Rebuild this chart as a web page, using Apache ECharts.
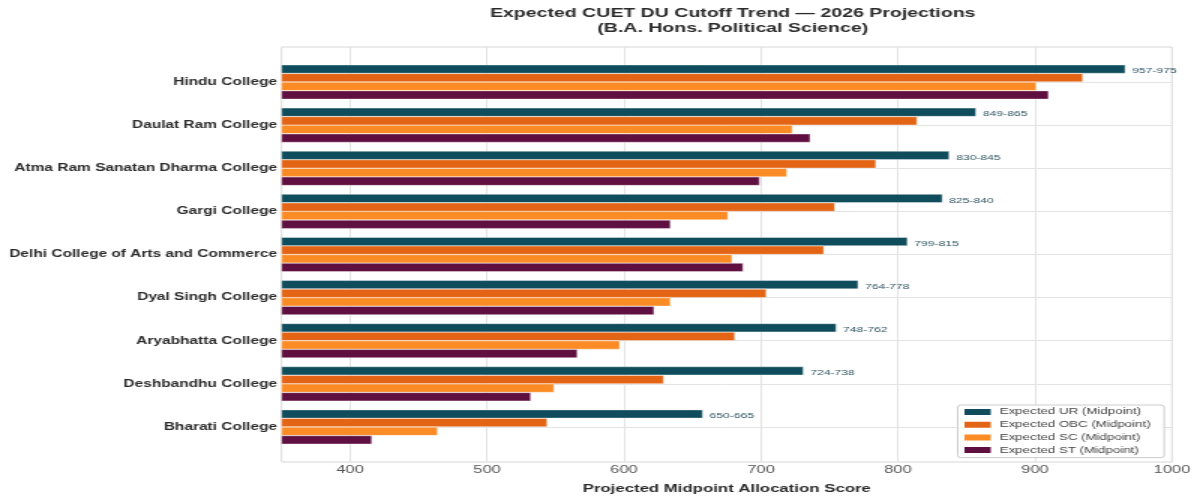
<!DOCTYPE html>
<html>
<head>
<meta charset="utf-8">
<script src="https://cdn.jsdelivr.net/npm/echarts@6/dist/echarts.min.js"></script>
<style>
html,body{margin:0;padding:0;background:#fff;overflow:hidden;width:1200px;height:500px}
#c{width:800px;height:500px;transform:scaleX(1.5);transform-origin:0 0}
</style>
</head>
<body>
<div id="c"></div>
<script>
const categories = ['Hindu College','Daulat Ram College','Atma Ram Sanatan Dharma College','Gargi College','Delhi College of Arts and Commerce','Dyal Singh College','Aryabhatta College','Deshbandhu College','Bharati College'];
const urMid  = [966, 857, 837.5, 832.5, 807, 771, 755, 731, 657.5];
const obcMid = [935, 814, 784, 754, 746, 704, 681, 629, 544];
const scMid  = [901, 723, 719, 676, 679, 634, 597, 549, 464];
const stMid  = [910, 736, 699, 634, 687, 622, 566, 532, 416];
const urRange = ['957-975','849-865','830-845','825-840','799-815','764-778','748-762','724-738','650-665'];
const seriesNames = ['Expected UR (Midpoint)','Expected OBC (Midpoint)','Expected SC (Midpoint)','Expected ST (Midpoint)'];
const xMin = 350, xMax = 1000;

const colors = ['#0F4C5C','#E36414','#FB8B24','#5F0F40'];
const font = 'Liberation Sans, Arial, sans-serif';
const chart = echarts.init(document.getElementById('c'), null, {renderer:'canvas', width: 800, height: 500});
const vals = [urMid, obcMid, scMid, stMid];

const option = {
  animation: false,
  backgroundColor: '#ffffff',
  textStyle: {fontFamily: font},
  title: {
    text: 'Expected CUET DU Cutoff Trend \u2014 2026 Projections\n(B.A. Hons. Political Science)',
    left: 483.5, top: 1, textAlign: 'center',
    textStyle: {fontFamily: font, fontSize: 13, fontWeight: 'bold', color: '#2b2b2b', lineHeight: 15}
  },
  grid: [
    {left: 187.7, right: 18.7, top: 47, bottom: 38, show: true, borderColor: '#d6d6d6', borderWidth: 1, backgroundColor: 'transparent'},
    {left: 187.7, right: 18.7, top: 60.5, bottom: 51.5, show: false}
  ],
  xAxis: [
    {type: 'value', gridIndex: 0, min: xMin, max: xMax,
     axisLine: {show: false}, axisTick: {show: false},
     axisLabel: {showMinLabel: false, color: '#555', fontSize: 11, fontFamily: font, margin: 2,
       formatter: v => String(v)},
     splitLine: {show: true, lineStyle: {color: '#e3e3e3', width: 1}},
     name: 'Projected Midpoint Allocation Score', nameLocation: 'middle', nameGap: 21,
     nameTextStyle: {fontFamily: font, fontSize: 11.2, fontWeight: 'bold', color: '#2b2b2b'}},
    {type: 'value', gridIndex: 1, min: xMin, max: xMax, show: false, splitLine: {show: false}}
  ],
  yAxis: [
    {type: 'value', gridIndex: 0, min: 0, max: 1, show: false, splitLine: {show: false}},
    {type: 'category', gridIndex: 1, data: categories, inverse: true,
     axisLine: {show: false}, axisTick: {show: false},
     axisLabel: {color: '#2b2b2b', fontSize: 10.3, fontWeight: 'bold', fontFamily: font, margin: 3},
     splitLine: {show: true, alignWithLabel: true, lineStyle: {color: '#e3e3e3', width: 1}}}
  ],
  legend: {
    orient: 'vertical', left: 638.5, top: 405,
    itemWidth: 19.5, itemHeight: 8, itemGap: 2.7,
    padding: [2, 9, 2.5, 2.5],
    backgroundColor: '#ffffff', borderColor: '#cccccc', borderWidth: 1, borderRadius: 2,
    textStyle: {fontFamily: font, fontSize: 8.9, color: '#444'},
    icon: 'rect',
    data: seriesNames
  },
  series: seriesNames.map((n, i) => ({
    name: n, type: 'bar', xAxisIndex: 1, yAxisIndex: 1,
    data: vals[i],
    barGap: '0%', barCategoryGap: '20%',
    itemStyle: {color: colors[i], borderColor: '#ffffff', borderWidth: 0.4},
    label: i === 0 ? {show: true, position: 'right', distance: 4.5, fontSize: 8.1, color: '#2f5563', fontFamily: font,
      offset: [0, 2], formatter: p => urRange[p.dataIndex]} : {show: false}
  }))
};
chart.setOption(option);
</script>
</body>
</html>
